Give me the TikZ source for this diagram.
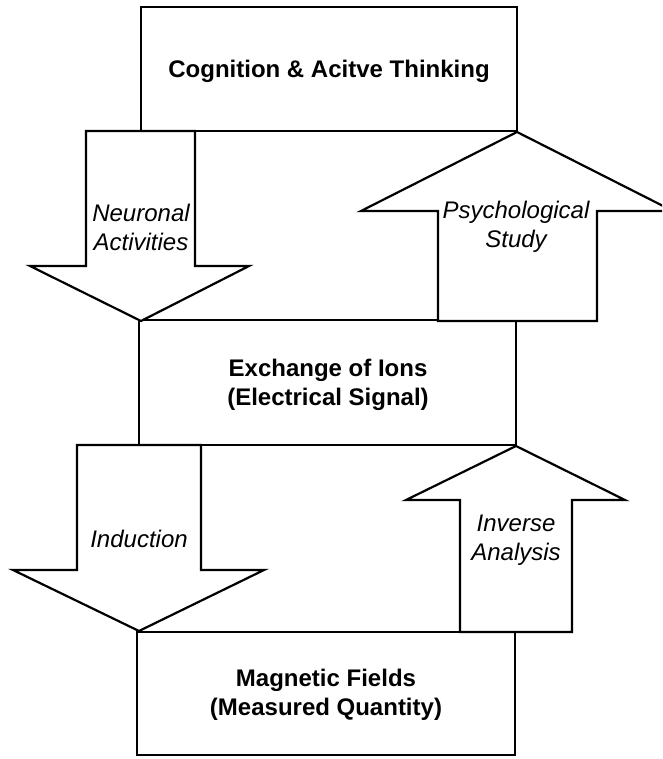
\documentclass[tikz,border=0pt]{standalone}
\usepackage{fontspec}
\setmainfont{Liberation Sans}
\begin{document}
\begin{tikzpicture}[x=1pt,y=-1pt,
  box/.style={draw, line width=2.2pt, fill=white, inner sep=0pt, align=center,
    font=\bfseries\fontsize{24}{29}\selectfont},
  blockarrow/.style={draw, line width=2.2pt, fill=white, line join=miter},
  lbl/.style={inner sep=0pt, align=center, font=\itshape\fontsize{24}{29}\selectfont}]
\useasboundingbox (0,0) rectangle (662,759);
\clip (0,0) rectangle (662,759);
% boxes
\node[box, minimum width=376pt, minimum height=124pt] (cog) at (329,69) {};
\node[font=\bfseries\fontsize{24}{29}\selectfont, inner sep=0pt] (cogt) at (329,71) {Cognition \& Acitve Thinking};
\node[box, minimum width=377pt, minimum height=125pt] (exch) at (327.5,382.5) {};
\node[font=\bfseries\fontsize{24}{29}\selectfont, inner sep=0pt, align=center] (excht) at (328,385) {Exchange of Ions\\(Electrical Signal)};
\node[box, minimum width=378pt, minimum height=123pt] (mag) at (326,693.5) {};
\node[font=\bfseries\fontsize{24}{29}\selectfont, inner sep=0pt, align=center] (magt) at (326,695) {Magnetic Fields\\(Measured Quantity)};
% block arrows
\draw[blockarrow] (86,131) -- (195,131) -- (195,266) -- (249,266) -- (141,321) -- (30,266) -- (86,266) -- cycle;
\draw[blockarrow] (517,132) -- (673,211) -- (597,211) -- (597,321) -- (438,321) -- (438,211) -- (361,211) -- cycle;
\draw[blockarrow] (77,445) -- (201,445) -- (201,570) -- (264,570) -- (139,631) -- (13,570) -- (77,570) -- cycle;
\draw[blockarrow] (516,446) -- (625,500) -- (572,500) -- (572,632) -- (460,632) -- (460,500) -- (406,500) -- cycle;
% labels
\node[lbl] (neu) at (141,227) {Neuronal\\Activities};
\node[lbl] (psy) at (516,227) {Psychological\\Study};
\node[lbl] (ind) at (139,539) {Induction};
\node[lbl] (inv) at (516,540) {Inverse\\Analysis};
\end{tikzpicture}
\end{document}
